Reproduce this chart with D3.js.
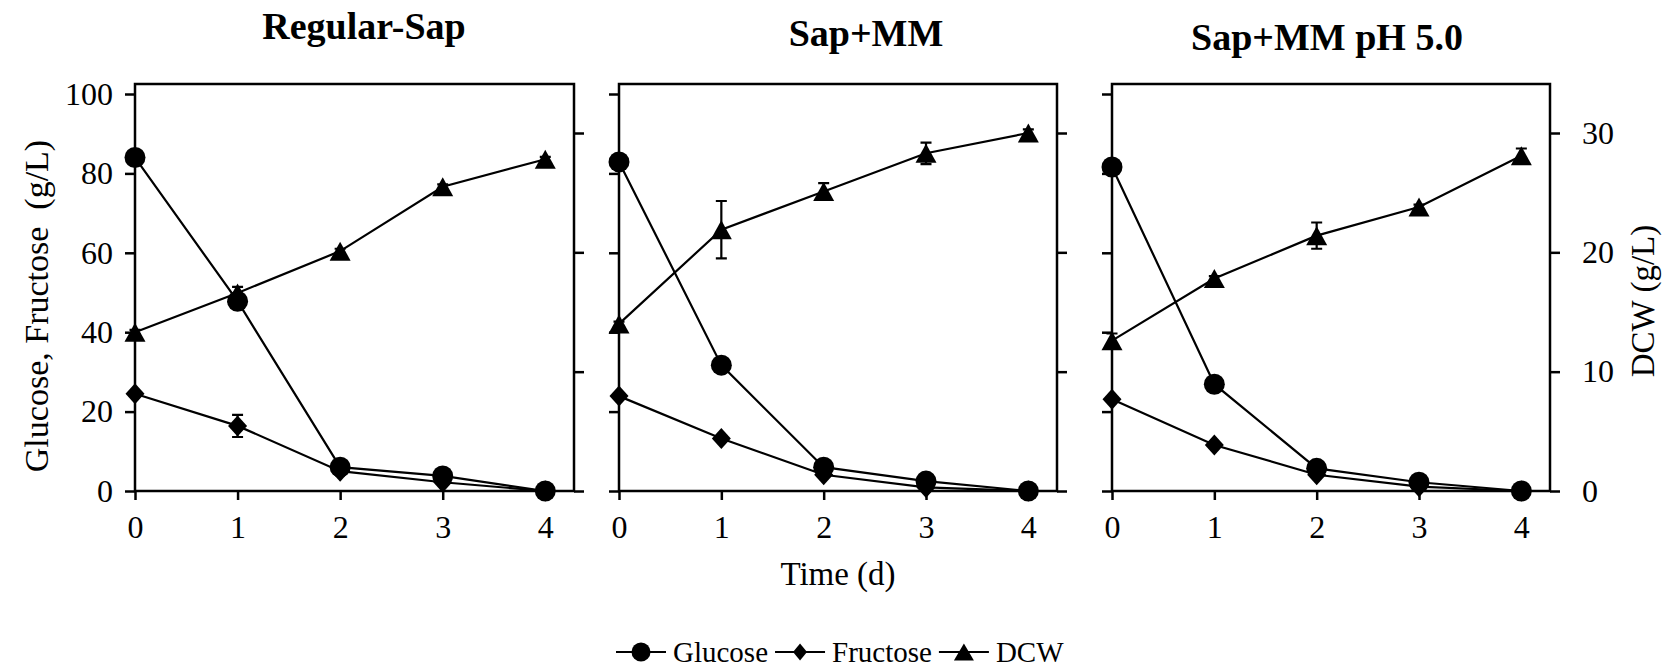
<!DOCTYPE html>
<html>
<head>
<meta charset="utf-8">
<script src="https://cdn.jsdelivr.net/npm/d3@7"></script>
<style>
  body { margin: 0; background: #fff; }
  text { font-family: "Liberation Serif", "Times New Roman", serif; fill: #000; }
</style>
</head>
<body>
<script>
// Data
const days = [0, 1, 2, 3, 4];
const panelTitles = ["Regular-Sap", "Sap+MM", "Sap+MM pH 5.0"];
const seriesNames = ["Glucose", "Fructose", "DCW"];

const glucose = [
  [84.0, 47.8, 6.0, 3.8, 0],
  [82.9, 31.7, 6.0, 2.5, 0],
  [81.6, 26.9, 5.7, 2.2, 0]
];
const glucoseErr = [
  [0.6, 1.2, 0.5, 0.3, 0],
  [0.5, 0.8, 0.5, 0.3, 0],
  [0.5, 0.6, 0.5, 0.3, 0]
];
const fructose = [
  [24.5, 16.4, 5.0, 2.2, 0],
  [23.9, 13.2, 4.1, 0.9, 0],
  [23.1, 11.6, 4.1, 1.1, 0]
];
const fructoseErr = [
  [0.4, 2.8, 0.4, 0.3, 0],
  [0.3, 0.6, 0.3, 0.2, 0],
  [0.3, 0.6, 0.3, 0.2, 0]
];
const dcw = [
  [13.3, 16.6, 20.1, 25.5, 27.8],
  [14.0, 21.9, 25.1, 28.3, 30.0],
  [12.6, 17.8, 21.4, 23.8, 28.1]
];
const dcwErr = [
  [0.2, 0.5, 0.2, 0.2, 0.2],
  [0.2, 2.4, 0.7, 0.9, 0.3],
  [0.6, 0.2, 1.1, 0.2, 0.6]
];

const leftTicks = [0, 20, 40, 60, 80, 100];
const rightTicks = [0, 10, 20, 30];

// Layout
const width = 1668, height = 670;
const plotTop = 84, plotBottom = 491;
const panels = [
  { left: 135, right: 574, titleX: 364, titleY: 39 },
  { left: 619, right: 1057, titleX: 866, titleY: 46 },
  { left: 1112, right: 1550, titleX: 1327, titleY: 50 }
];
const fontFamily = '"Liberation Serif", "Times New Roman", serif';

const svg = d3.select("body")
  .append("svg")
  .attr("width", width)
  .attr("height", height);

const yL = d3.scaleLinear().domain([0, 100]).range([plotBottom, 94]);
const yR = d3.scaleLinear().domain([0, 30]).range([plotBottom, 133]);

// marker shapes
function circle(g, r) {
  return g.append("circle").attr("r", r).attr("fill", "#000");
}
function diamond(g, hw, hh) {
  return g.append("path").attr("d", `M0,${-hh}L${hw},0L0,${hh}L${-hw},0Z`).attr("fill", "#000");
}
function triangle(g, w, h) {
  return g.append("path").attr("d", `M0,${-h / 2}L${w / 2},${h / 2}L${-w / 2},${h / 2}Z`).attr("fill", "#000");
}

function styleAxis(a) {
  a.attr("font-family", null).attr("font-size", null);
  a.select(".domain").remove();
  a.selectAll("line").attr("stroke", "#000").attr("stroke-width", 2.5);
  a.selectAll("text").style("font-size", "32px").style("font-family", fontFamily);
}

panels.forEach((p, i) => {
  const x = d3.scaleLinear().domain([0, 4.28]).range([p.left, p.right]);
  const g = svg.append("g");

  // left axis ticks
  const la = g.append("g")
    .attr("transform", `translate(${p.left},0)`)
    .call(d3.axisLeft(yL).tickValues(leftTicks).tickSize(10).tickPadding(12)
      .tickFormat(i === 0 ? d3.format("d") : () => ""));
  styleAxis(la);

  // right axis ticks
  const ra = g.append("g")
    .attr("transform", `translate(${p.right},0)`)
    .call(d3.axisRight(yR).tickValues(rightTicks).tickSize(10).tickPadding(22)
      .tickFormat(i === 2 ? d3.format("d") : () => ""));
  styleAxis(ra);

  // bottom axis
  const xa = g.append("g")
    .attr("transform", `translate(0,${plotBottom})`)
    .call(d3.axisBottom(x).tickValues(days).tickSize(9).tickPadding(15).tickFormat(d3.format("d")));
  styleAxis(xa);

  // frame
  g.append("rect")
    .attr("x", p.left).attr("y", plotTop)
    .attr("width", p.right - p.left).attr("height", plotBottom - plotTop)
    .attr("fill", "none").attr("stroke", "#000").attr("stroke-width", 2.5);

  // title
  svg.append("text")
    .attr("x", p.titleX).attr("y", p.titleY)
    .attr("text-anchor", "middle")
    .style("font-size", "38px").style("font-weight", "bold")
    .text(panelTitles[i]);

  const series = [
    { vals: dcw[i], err: dcwErr[i], y: yR, mark: (m) => triangle(m, 21, 19) },
    { vals: fructose[i], err: fructoseErr[i], y: yL, mark: (m) => diamond(m, 9.5, 10.5) },
    { vals: glucose[i], err: glucoseErr[i], y: yL, mark: (m) => circle(m, 10.5) }
  ];

  series.forEach(s => {
    const line = d3.line().x((d, k) => x(days[k])).y(d => s.y(d));
    g.append("path")
      .attr("d", line(s.vals))
      .attr("fill", "none").attr("stroke", "#000").attr("stroke-width", 2.2);

    // error bars
    s.vals.forEach((v, k) => {
      const e = s.err[k];
      if (!e) return;
      const cx = x(days[k]);
      const y1 = s.y(v - e), y2 = s.y(v + e);
      g.append("path")
        .attr("d", `M${cx},${y1}V${y2}M${cx - 5.5},${y1}H${cx + 5.5}M${cx - 5.5},${y2}H${cx + 5.5}`)
        .attr("stroke", "#000").attr("stroke-width", 2.2).attr("fill", "none");
    });

    s.vals.forEach((v, k) => {
      const m = g.append("g").attr("transform", `translate(${x(days[k])},${s.y(v)})`);
      s.mark(m);
    });
  });
});

// axis titles
svg.append("text")
  .attr("transform", "translate(36,306) rotate(-90)")
  .attr("text-anchor", "middle")
  .attr("dominant-baseline", "central")
  .attr("xml:space", "preserve")
  .style("font-size", "34px")
  .style("white-space", "pre")
  .text("Glucose, Fructose  (g/L)");

svg.append("text")
  .attr("transform", "translate(1643,301) rotate(-90)")
  .attr("text-anchor", "middle")
  .attr("dominant-baseline", "central")
  .style("font-size", "33px")
  .text("DCW (g/L)");

svg.append("text")
  .attr("x", 838).attr("y", 585)
  .attr("text-anchor", "middle")
  .style("font-size", "33px")
  .text("Time (d)");

// legend
const legend = svg.append("g");
const legendMarks = [
  (m) => circle(m, 9.5),
  (m) => diamond(m, 7, 8.5),
  (m) => triangle(m, 20, 17)
];
let lx = 616;
const ly = 652;
seriesNames.forEach((name, k) => {
  legend.append("line")
    .attr("x1", lx).attr("x2", lx + 50).attr("y1", ly).attr("y2", ly)
    .attr("stroke", "#000").attr("stroke-width", 2.2);
  const m = legend.append("g").attr("transform", `translate(${lx + 25},${ly})`);
  legendMarks[k](m);
  const t = legend.append("text")
    .attr("x", lx + 57).attr("y", ly + 10)
    .style("font-size", "29px")
    .text(name);
  lx += 57 + t.node().getComputedTextLength() + 7;
});
</script>
</body>
</html>
